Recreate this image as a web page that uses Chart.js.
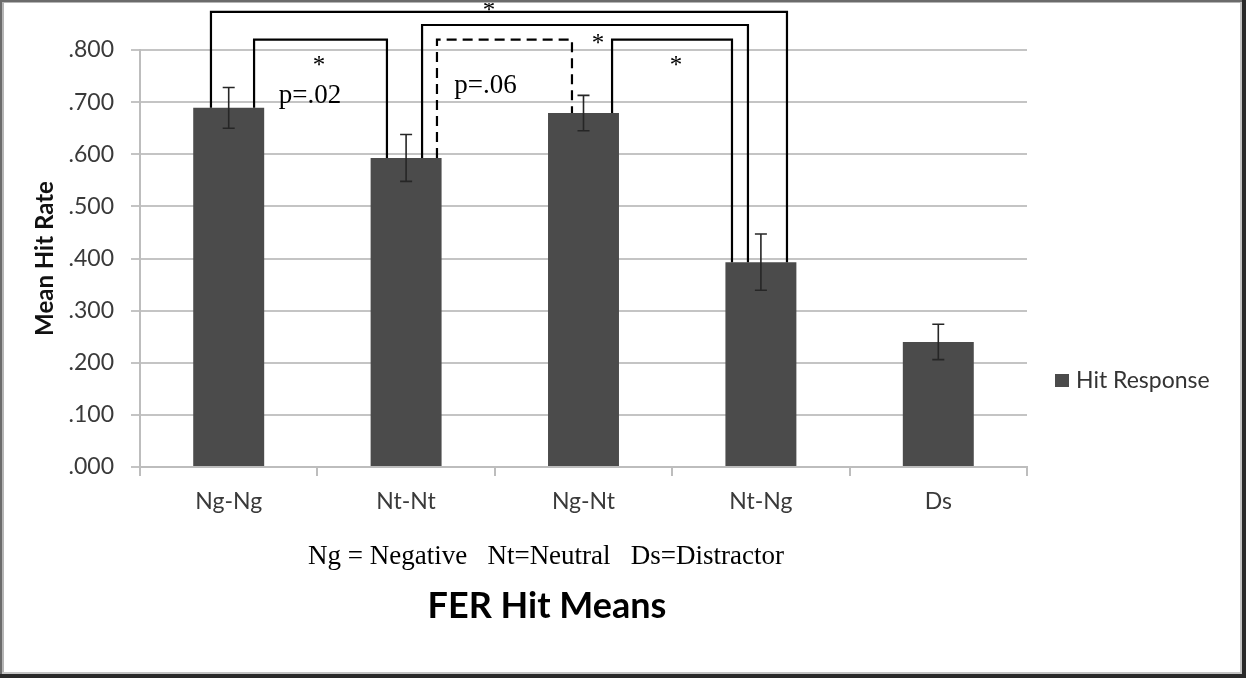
<!DOCTYPE html>
<html>
<head>
<meta charset="utf-8">
<script src="https://cdn.jsdelivr.net/npm/chart.js@4.4.1/dist/chart.umd.min.js"></script>
<style>
  html, body { margin: 0; padding: 0; background: #ffffff; }
  canvas { display: block; }
</style>
</head>
<body>
<canvas id="c" width="1246" height="678"></canvas>
<script>
// ---- data ----
const categories = ['Ng-Ng', 'Nt-Nt', 'Ng-Nt', 'Nt-Ng', 'Ds'];
const hitMeans  = [0.689, 0.593, 0.679, 0.393, 0.240];
const hitErrors = [0.039, 0.045, 0.034, 0.054, 0.034];
const seriesName = 'Hit Response';
const yAxisTitle = 'Mean Hit Rate';
const captionText = 'Ng = Negative   Nt=Neutral   Ds=Distractor';
const chartTitle = 'FER Hit Means';

// significance brackets: bar indices and bracket height (value units)
const bracketFrom  = [0, 0, 1, 1, 2];
const bracketTo    = [3, 1, 3, 2, 3];
const bracketLevel = [0.873, 0.820, 0.848, 0.820, 0.820];
const bracketDashed = [false, false, false, true, false];
// significance labels
const sigText  = ['*', '*', 'p=.02', 'p=.06', '*', '*'];
const sigValue = [0.884, 0.778, 0.699, 0.717, 0.820, 0.778];

// ---- annotation placement (category units offsets) ----
const bracketOffFrom = [-0.100, 0.143, 0.090, 0.174, 0.161];
const bracketOffTo   = [0.147, -0.108, -0.073, -0.065, -0.163];
const sigAt = [1.467, 0.509, 0.458, 1.447, 2.082, 2.521];

const BAR = '#4b4b4b';

const annotPlugin = {
  id: 'annot',
  beforeDraw(chart) {
    const ctx = chart.ctx;
    ctx.save();
    ctx.fillStyle = '#ffffff';
    ctx.fillRect(0, 0, chart.width, chart.height);
    ctx.restore();
  },
  afterDatasetsDraw(chart) {
    const ctx = chart.ctx;
    const y = chart.scales.y;
    const meta = chart.getDatasetMeta(0);
    ctx.save();
    ctx.strokeStyle = '#262626';
    ctx.lineWidth = 1.6;
    meta.data.forEach((bar, i) => {
      const cx = bar.x;
      const yt = y.getPixelForValue(hitMeans[i] + hitErrors[i]);
      const yb = y.getPixelForValue(hitMeans[i] - hitErrors[i]);
      ctx.beginPath();
      ctx.moveTo(cx, yt); ctx.lineTo(cx, yb);
      ctx.moveTo(cx - 6, yt); ctx.lineTo(cx + 6, yt);
      ctx.moveTo(cx - 6, yb); ctx.lineTo(cx + 6, yb);
      ctx.stroke();
    });
    ctx.restore();
  },
  afterDraw(chart) {
    const ctx = chart.ctx;
    const x = chart.scales.x, y = chart.scales.y;
    ctx.save();
    // brackets
    ctx.strokeStyle = '#000';
    ctx.lineWidth = 2.2;
    for (let k = 0; k < bracketFrom.length; k++) {
      const a = bracketFrom[k], b = bracketTo[k];
      const xl = x.getPixelForValue(a + bracketOffFrom[k]);
      const xr = x.getPixelForValue(b + bracketOffTo[k]);
      const yl = y.getPixelForValue(hitMeans[a]);
      const yr = y.getPixelForValue(hitMeans[b]);
      const yt = y.getPixelForValue(bracketLevel[k]);
      ctx.setLineDash(bracketDashed[k] ? [10, 6] : []);
      ctx.beginPath();
      ctx.moveTo(xl, yl); ctx.lineTo(xl, yt); ctx.lineTo(xr, yt); ctx.lineTo(xr, yr);
      ctx.stroke();
    }
    ctx.setLineDash([]);
    // significance labels
    ctx.fillStyle = '#000';
    ctx.textAlign = 'center';
    for (let k = 0; k < sigText.length; k++) {
      const px = x.getPixelForValue(sigAt[k]);
      const py = y.getPixelForValue(sigValue[k]);
      if (sigText[k] === '*') {
        ctx.font = '25px "Liberation Serif"';
        ctx.textBaseline = 'middle';
        ctx.fillText('*', px, py + 5);
      } else {
        ctx.font = '27px "Liberation Serif"';
        ctx.textBaseline = 'alphabetic';
        ctx.fillText(sigText[k], px, py);
      }
    }
    // legend
    ctx.fillStyle = BAR;
    ctx.fillRect(1055, 374, 14, 13);
    ctx.fillStyle = '#333';
    ctx.textAlign = 'left';
    ctx.textBaseline = 'middle';
    ctx.font = '23px Lato';
    ctx.fillText(seriesName, 1076, 381);
    // caption and title
    ctx.fillStyle = '#000';
    ctx.textAlign = 'center';
    ctx.textBaseline = 'alphabetic';
    ctx.font = '27px "Liberation Serif"';
    ctx.fillText(captionText, 546, 564);
    ctx.font = 'bold 36px Lato';
    ctx.fillText(chartTitle, 547, 618);
    // frame
    ctx.fillStyle = '#6b6b6b';
    ctx.fillRect(0, 0, 2, 678);
    ctx.fillRect(0, 0, 1246, 2);
    ctx.fillStyle = '#b5b5b5';
    ctx.fillRect(2, 2, 2, 672);
    ctx.fillRect(2, 2, 1238, 1);
    ctx.fillStyle = '#c4c4c4';
    ctx.fillRect(1240, 2, 2, 672);
    ctx.fillRect(2, 672, 1240, 2);
    ctx.fillStyle = '#2a2a2a';
    ctx.fillRect(1242, 0, 4, 678);
    ctx.fillRect(0, 674, 1246, 4);
    ctx.restore();
  }
};

new Chart(document.getElementById('c'), {
  type: 'bar',
  data: {
    labels: categories,
    datasets: [{
      label: seriesName,
      data: hitMeans,
      backgroundColor: BAR,
      borderWidth: 0,
      barPercentage: 0.4,
      categoryPercentage: 1.0
    }]
  },
  options: {
    responsive: false,
    animation: false,
    devicePixelRatio: 1,
    layout: { padding: { left: 0, right: 219, top: 50, bottom: 151 } },
    plugins: { legend: { display: false }, tooltip: { enabled: false } },
    scales: {
      x: {
        grid: { drawOnChartArea: false, drawTicks: true, tickLength: 9, color: '#bdbdbd', lineWidth: 2 },
        border: { color: '#bdbdbd', width: 2 },
        ticks: { color: '#3a3a3a', font: { family: 'Lato', size: 23 }, padding: 12 },
        afterFit: s => { s.height = 60; }
      },
      y: {
        min: 0, max: 0.8,
        ticks: {
          stepSize: 0.1,
          color: '#3a3a3a',
          font: { family: 'Lato', size: 23 },
          padding: 17,
          callback: v => Number(v).toFixed(3).replace(/^0/, '')
        },
        grid: { color: '#c4c4c4', lineWidth: 2, tickLength: 9 },
        border: { color: '#bdbdbd', width: 2 },
        title: {
          display: true, text: yAxisTitle, color: '#111',
          font: { family: 'Lato', size: 24, weight: 'bold' },
          padding: { top: 31, bottom: 0 }
        },
        afterFit: s => { s.width = 140; }
      }
    }
  },
  plugins: [annotPlugin]
});
</script>
</body>
</html>
